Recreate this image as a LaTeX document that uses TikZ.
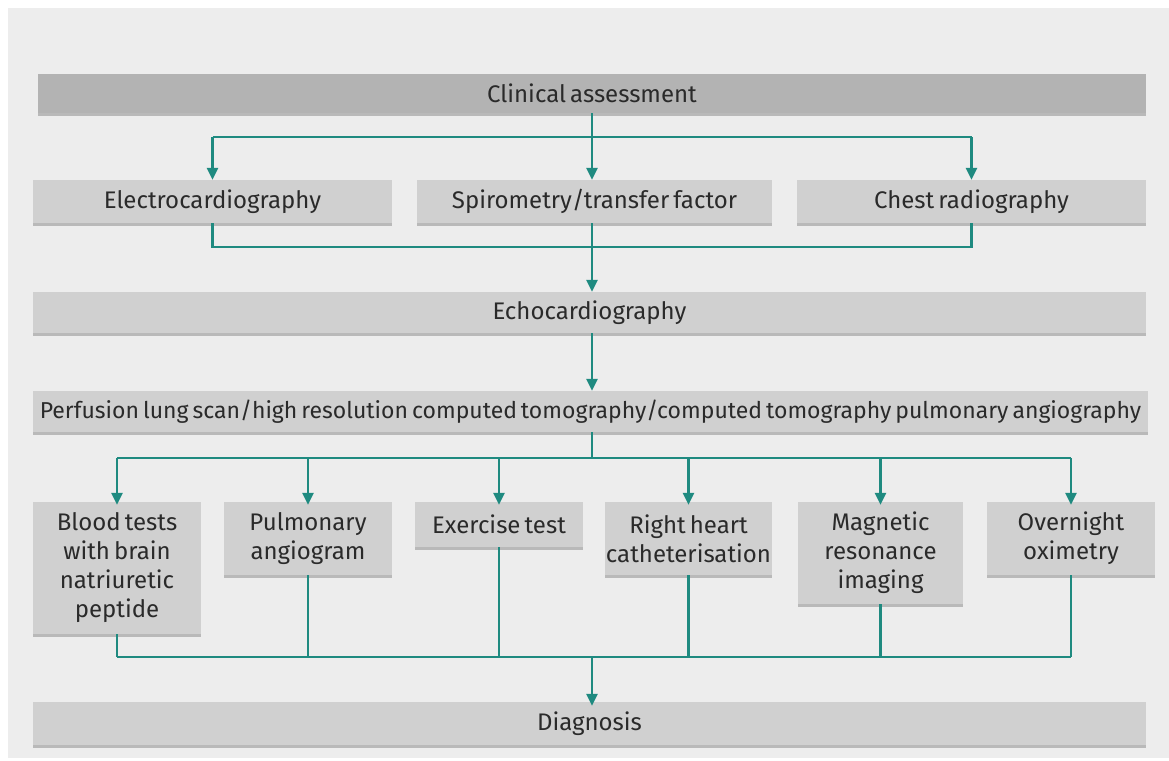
\documentclass[tikz,border=0pt]{standalone}
\usepackage{fontspec}
\setmainfont{Fira Sans}[WordSpace=0.65]
\usetikzlibrary{arrows.meta,shadows}
\definecolor{panel}{HTML}{EDEDED}
\definecolor{boxgray}{HTML}{D0D0D0}
\definecolor{topgray}{HTML}{B3B3B3}
\definecolor{shadowgray}{HTML}{B9B9B9}
\definecolor{teal}{HTML}{1F8A80}
\definecolor{txt}{HTML}{2A2A2A}
\tikzset{
  box/.style={rectangle, fill=boxgray, inner sep=0pt, align=center, text=txt,
    font=\fontsize{24}{29}\selectfont,
    general shadow={fill=shadowgray, shadow xshift=0pt, shadow yshift=-3pt}},
  topbox/.style={box, fill=topgray},
  conn/.style={draw=teal, line width=2.8pt},
  arr/.style={conn, -{Triangle[width=11pt,length=12pt]}},
}
\begin{document}
\begin{tikzpicture}[x=1pt,y=-1pt]
\useasboundingbox (0,0) rectangle (1169,760);
\fill[white] (0,0) rectangle (1169,760);
\fill[panel] (8,8) rectangle (1169,758);
% nodes
\node[topbox, minimum width=1108pt, minimum height=39pt] (clin) at (592,93.5) {Clinical assessment};
\node[box, minimum width=359pt, minimum height=43pt] (ecg) at (212.5,201.5) {Electrocardiography};
\node[box, minimum width=355pt, minimum height=43pt] (spiro) at (594.5,201.5) {Spirometry/transfer factor};
\node[box, minimum width=349pt, minimum height=43pt] (chest) at (971.5,201.5) {Chest radiography};
\node[box, minimum width=1113pt, minimum height=41pt] (echo) at (589.5,312.5) {Echocardiography};
\node[box, minimum width=1115pt, minimum height=41pt, font=\fontsize{23}{29}\selectfont] (perf) at (590.5,411.5) {Perfusion lung scan/high resolution computed tomography/computed tomography pulmonary angiography};
\node[box, minimum width=168pt, minimum height=132pt] (blood) at (117,568) {Blood tests\\with brain\\natriuretic\\peptide};
\node[box, minimum width=168pt, minimum height=73pt] (pulm) at (308,538.5) {Pulmonary\\angiogram};
\node[box, minimum width=168pt, minimum height=45pt] (exer) at (499,524.5) {Exercise test};
\node[box, minimum width=167pt, minimum height=73pt] (rhc) at (688.5,538.5) {Right heart\\catheterisation};
\node[box, minimum width=165pt, minimum height=102pt] (mri) at (880.5,553) {Magnetic\\resonance\\imaging};
\node[box, minimum width=168pt, minimum height=73pt] (oxi) at (1071,538.5) {Overnight\\oximetry};
\node[box, minimum width=1113pt, minimum height=43pt] (diag) at (589.5,723.5) {Diagnosis};
% junction coordinates
\coordinate (j1) at (592,137);
\coordinate (j2) at (592,247);
\coordinate (j3) at (592,458);
\coordinate (j4) at (592,657);
% connectors
\draw[conn] (clin.south -| j1) -- (j1);
\draw[conn] (ecg.north |- j1) -- (chest.north |- j1);
\draw[arr] (ecg.north |- j1) -- (ecg.north);
\draw[arr] (j1) -- (spiro.north -| j1);
\draw[arr] (chest.north |- j1) -- (chest.north);
\draw[conn] (ecg.south) -- (ecg.south |- j2) -- (chest.south |- j2) -- (chest.south);
\draw[conn] (spiro.south -| j2) -- (j2);
\draw[arr] (j2) -- (echo.north -| j2);
\draw[arr] (echo.south -| j2) -- (perf.north -| j2);
\draw[conn] (perf.south -| j3) -- (j3);
\draw[conn] (blood.north |- j3) -- (oxi.north |- j3);
\foreach \n in {blood,pulm,exer,rhc,mri,oxi}{
  \draw[arr] (\n.north |- j3) -- ([yshift=-3pt]\n.north);
  \draw[conn] (\n.south) -- (\n.south |- j4);
}
\draw[conn] (blood.south |- j4) -- (oxi.south |- j4);
\draw[arr] (j4) -- ([yshift=-4pt]diag.north -| j4);
\end{tikzpicture}
\end{document}
